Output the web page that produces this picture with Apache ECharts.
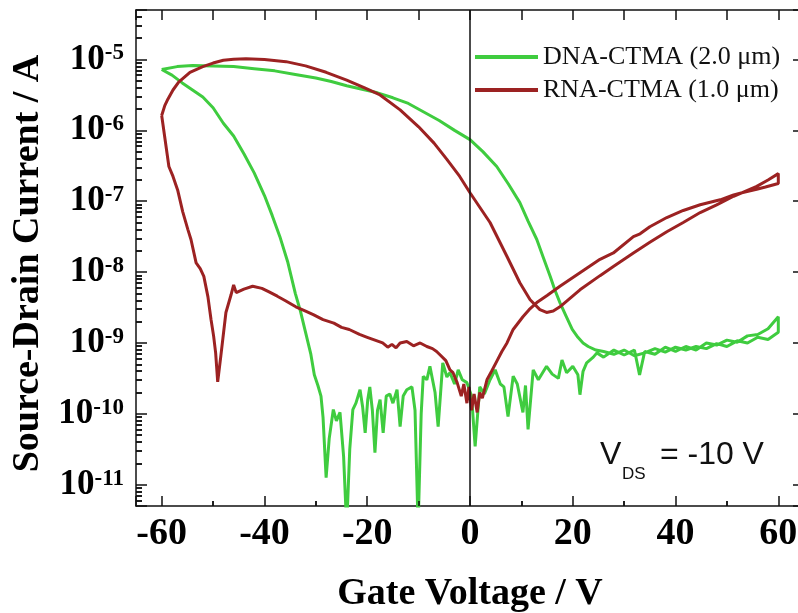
<!DOCTYPE html>
<html>
<head>
<meta charset="utf-8">
<script src="https://cdn.jsdelivr.net/npm/echarts@6/dist/echarts.min.js"></script>
<style>
html,body{margin:0;padding:0;background:#fff;}
#chart{width:798px;height:613px;}
</style>
</head>
<body>
<div id="chart"></div>
<script>
// ---- axis definitions ----
const xMin = -65, xMax = 65;
const xTickValues = [-60, -40, -20, 0, 20, 40, 60];
const xMinorTickValues = [-50, -30, -10, 10, 30, 50];
const yMin = 5e-12, yMax = 5e-5;
const yTickExponents = [-11, -10, -9, -8, -7, -6, -5];
const yMinorMultipliers = [2, 3, 4, 5, 6, 7, 8, 9];
const yMinorDecades = [-12, -11, -10, -9, -8, -7, -6, -5];

// ---- DNA-CTMA (2.0 um): gate voltage (V) and log10 of current (A), full sweep loop ----
const dnaV = [
  -60,-58,-56,-54,-52,-50,-48,-46,-44,-42,-40,-38.5,-37,-35.5,-34,-33,-32,-31,-30.3,-29.6,-29.0,
  -28.6,-28.0,-27.4,-26.6,-26.0,-25.3,-24.6,-24.0,-23.4,-22.8,-22.2,-21.4,-20.9,-20.4,-19.9,-19.5,
  -19.0,-18.5,-18.0,-17.5,-16.9,-16.3,-15.6,-15.0,-14.2,-13.6,-13.0,-12.3,-11.3,-10.7,-10.1,-9.5,
  -9.1,-8.4,-7.8,-6.8,-6.2,-5.3,-4.5,-3.9,-3.0,-2.3,-1.5,-0.6,0.3,1.0,1.9,2.8,3.9,4.9,5.9,6.6,7.4,
  8.4,9.2,10.3,10.8,11.3,12.3,13.3,14.9,16.0,17.2,17.9,18.8,20.0,21.0,21.4,22.0,22.7,24.0,24.7,
  26,28,30,32,33,34,36,38,40,42,44,46,48,50,52,54,56,58,60,
  60,58,56,54,52,50,48,46,44,42,40,38,36,34,32,30,28,26,24.5,23,22,21,19.9,18.7,17.5,16.5,15.6,
  14.3,13,11.3,9.7,7.5,5.2,2.5,0,-3,-6,-9,-12,-15,-18,-21,-24,-27,-30,-34,-38,-42,-46,-50,-54,-57,-60
];
const dnaLogI = [
  -5.14,-5.22,-5.33,-5.43,-5.53,-5.68,-5.90,-6.08,-6.33,-6.60,-6.92,-7.20,-7.50,-7.85,-8.30,-8.55,-8.85,-9.15,-9.45,-9.60,-9.75,
  -10.05,-10.90,-10.35,-9.94,-10.10,-9.98,-10.60,-11.60,-10.50,-9.94,-9.85,-9.66,-9.90,-10.27,-9.80,-9.62,
  -9.95,-10.55,-9.95,-9.80,-10.27,-9.75,-9.72,-9.85,-9.66,-10.18,-9.75,-9.66,-9.62,-9.95,-11.60,-10.00,
  -9.47,-9.52,-9.33,-9.70,-10.18,-9.28,-9.48,-9.42,-9.58,-9.38,-9.52,-9.56,-9.75,-10.46,-9.62,-9.72,-9.52,-9.38,-9.58,-9.62,-10.04,
  -9.47,-9.58,-9.98,-9.60,-10.22,-9.38,-9.52,-9.33,-9.44,-9.50,-9.24,-9.42,-9.33,-9.45,-9.73,-9.40,-9.28,-9.20,-9.14,
  -9.20,-9.10,-9.17,-9.10,-9.45,-9.12,-9.16,-9.06,-9.12,-9.05,-9.10,-9.00,-9.03,-8.96,-8.99,-8.90,-8.88,-8.80,-8.63,
  -8.85,-8.95,-8.92,-9.00,-8.97,-9.05,-9.01,-9.08,-9.05,-9.10,-9.06,-9.13,-9.08,-9.14,-9.18,-9.10,-9.16,-9.12,-9.10,-9.05,-9.00,-8.92,-8.81,-8.62,-8.43,-8.25,-8.06,
  -7.80,-7.54,-7.28,-7.02,-6.76,-6.51,-6.30,-6.13,-6.00,-5.86,-5.74,-5.62,-5.54,-5.47,-5.42,-5.37,-5.31,-5.26,-5.21,-5.16,-5.13,-5.10,-5.09,-5.085,-5.10,-5.14
];

// ---- RNA-CTMA (1.0 um): gate voltage (V) and log10 of current (A), full sweep loop ----
const rnaV = [
  -60,-59.4,-58.8,-57.8,-56.7,-54.5,-52,-50,-48,-46,-43.6,-40,-35.8,-32,-28,-24,-20.5,-17.5,-13.6,
  -10,-7,-4.5,-2,0,3.9,7.2,9.7,11.7,13.6,14.9,16.2,17.5,21.4,25.3,27.9,31.8,35,38.3,41.5,44.8,48,
  51.3,55.8,58,60,
  60,57.5,55.8,53.5,51.3,48.7,44.8,41.5,38.3,35,33.1,31.8,27.9,25.3,21.4,17.5,15,13,11.5,10.3,8.4,
  7.2,6.2,5.2,4.2,3.3,2.4,1.9,1.4,0.8,0.3,-0.2,-0.6,-1.2,-1.7,-2.5,-3.3,-3.9,-4.7,-5.8,-6.5,-7.3,
  -8.4,-9.7,-11,-12.3,-13.6,-14.4,-15.2,-16,-17,-18.5,-20,-21.5,-23.5,-25,-26.5,-28.6,-30.5,-32,
  -33.9,-36,-37.5,-39.1,-40.5,-42.3,-44,-45.5,-46.0,-46.5,-47.5,-48.5,-49.1,-49.5,-49.9,-50.4,-51.0,
  -51.8,-52.5,-53.3,-54.3,-54.9,-55.9,-56.9,-57.8,-58.6,-60
];
const rnaLogI = [
  -5.79,-5.65,-5.56,-5.43,-5.32,-5.18,-5.10,-5.05,-5.01,-4.995,-4.99,-5.00,-5.03,-5.09,-5.18,-5.29,-5.40,-5.50,-5.71,
  -5.95,-6.18,-6.41,-6.65,-6.88,-7.30,-7.78,-8.15,-8.39,-8.53,-8.57,-8.55,-8.49,-8.25,-8.05,-7.92,-7.73,-7.58,-7.43,-7.30,-7.16,-7.05,
  -6.93,-6.79,-6.70,-6.61,
  -6.75,-6.80,-6.83,-6.87,-6.91,-6.98,-7.05,-7.13,-7.23,-7.36,-7.46,-7.50,-7.73,-7.82,-8.01,-8.20,-8.33,-8.43,-8.53,-8.63,-8.81,
  -9.00,-9.12,-9.26,-9.40,-9.52,-9.78,-9.70,-9.98,-9.72,-9.95,-9.62,-9.85,-9.58,-9.75,-9.56,-9.42,-9.38,-9.25,-9.17,-9.12,-9.08,
  -9.05,-9.00,-9.04,-8.98,-9.00,-9.07,-9.02,-9.06,-9.00,-8.96,-8.92,-8.88,-8.81,-8.78,-8.72,-8.67,-8.60,-8.55,
  -8.49,-8.40,-8.34,-8.28,-8.23,-8.20,-8.24,-8.29,-8.18,-8.32,-8.57,-9.19,-9.55,-9.14,-8.90,-8.67,-8.35,
  -8.06,-7.95,-7.87,-7.54,-7.40,-7.15,-6.84,-6.65,-6.51,-5.79
];

const seriesNames = ['DNA-CTMA (2.0 \u03bcm)', 'RNA-CTMA (1.0 \u03bcm)'];
const seriesColors = ['#3fcc3f', '#9c2222'];

// ---- build ----
const dnaData = dnaV.map((v, i) => [v, Math.pow(10, dnaLogI[i])]);
const rnaData = rnaV.map((v, i) => [v, Math.pow(10, rnaLogI[i])]);

// minor tick marks, expressed in data units and drawn through the axis scales
const yTickLenV = 1.17;          // ~6 px along the voltage axis
const xTickLenFactor = 1.176;    // ~5 px along the log current axis
const minorTickLines = [];
yMinorDecades.forEach(d => yMinorMultipliers.forEach(m => {
  const val = m * Math.pow(10, d);
  if (val > yMin && val < yMax) {
    minorTickLines.push([{coord: [xMin + 0.001, val]}, {coord: [xMin + yTickLenV, val]}]);
  }
}));
xMinorTickValues.forEach(v => {
  minorTickLines.push([{coord: [v, yMin * 1.0001]}, {coord: [v, yMin * xTickLenFactor]}]);
});

const serif = 'Liberation Serif';
const chart = echarts.init(document.getElementById('chart'), null, {renderer: 'canvas'});

function yLabel(v) {
  const e = Math.log10(v);
  const r = Math.round(e);
  if (Math.abs(e - r) > 1e-6 || yTickExponents.indexOf(r) < 0) return ' ';
  return '{b|10}{s|' + r + '}';
}
function xLabel(v) {
  return xTickValues.indexOf(Math.round(v * 1000) / 1000) >= 0 ? String(Math.round(v)) : ' ';
}
function ls() { return {color: '#111', width: 1.5}; }

chart.setOption({
  animation: false,
  backgroundColor: '#fff',
  grid: {left: 136, top: 10, right: -6, bottom: 107, outerBoundsMode: 'none'},
  legend: {
    data: seriesNames,
    orient: 'vertical',
    left: 475, top: 44, padding: 0,
    icon: 'rect', itemWidth: 63, itemHeight: 4, itemGap: 7,
    textStyle: {fontFamily: serif, fontSize: 26, color: '#111', lineHeight: 26},
    selectedMode: false
  },
  xAxis: [{
    type: 'value', min: xMin, max: xMax, splitNumber: 6, position: 'bottom',
    axisLine: {show: true, onZero: false, lineStyle: ls()},
    axisTick: {show: true, inside: true, length: 10, lineStyle: ls()},
    minorTick: {show: true, splitNumber: 2, length: 5, lineStyle: ls()},
    splitLine: {show: false},
    axisLabel: {formatter: xLabel, margin: 9, fontFamily: serif, fontWeight: 'bold', fontSize: 38, color: '#000', lineHeight: 38},
    name: 'Gate Voltage / V', nameLocation: 'middle', nameGap: 69,
    nameTextStyle: {fontFamily: serif, fontWeight: 'bold', fontSize: 38, color: '#000', lineHeight: 38}
  }, {
    type: 'value', min: xMin, max: xMax, splitNumber: 13, position: 'top',
    axisLine: {show: true, onZero: false, lineStyle: ls()},
    axisTick: {show: true, inside: true, length: 10, lineStyle: ls()},
    splitLine: {show: false}, axisLabel: {show: false}
  }],
  yAxis: [{
    type: 'log', logBase: 10, min: yMin, max: yMax, position: 'left',
    axisLine: {show: true, onZero: false, lineStyle: ls()},
    axisTick: {show: true, inside: true, length: 11, lineStyle: ls()},
    minorTick: {show: true, splitNumber: 9, length: 6, lineStyle: ls()},
    splitLine: {show: false},
    axisLabel: {
      formatter: yLabel, margin: 12,
      rich: {
        b: {fontFamily: serif, fontWeight: 'bold', fontSize: 35, lineHeight: 35, color: '#000'},
        s: {fontFamily: serif, fontWeight: 'bold', fontSize: 23, lineHeight: 23, color: '#000', verticalAlign: 'top'}
      }
    },
    name: 'Source-Drain Current / A', nameLocation: 'middle', nameGap: 87,
    nameTextStyle: {fontFamily: serif, fontWeight: 'bold', fontSize: 38, color: '#000', lineHeight: 38, padding: [0, 11, 0, 0]}
  }, {
    type: 'log', logBase: 10, min: yMin, max: yMax, position: 'right',
    axisLine: {show: true, onZero: false, lineStyle: ls()},
    axisTick: {show: true, inside: true, length: 11, lineStyle: ls()},
    minorTick: {show: true, splitNumber: 9, length: 6, lineStyle: ls()},
    splitLine: {show: false}, axisLabel: {show: false}
  }],
  graphic: [
    {type: 'text', x: 600, y: 455, silent: true,
     style: {text: 'V', font: '32px "Liberation Sans"', fill: '#111', align: 'left', verticalAlign: 'middle'}},
    {type: 'text', x: 622, y: 474, silent: true,
     style: {text: 'DS', font: '17px "Liberation Sans"', fill: '#111', align: 'left', verticalAlign: 'middle'}},
    {type: 'text', x: 651, y: 455, silent: true,
     style: {text: ' = -10 V', font: '32px "Liberation Sans"', fill: '#111', align: 'left', verticalAlign: 'middle'}}
  ],
  series: [{
    name: seriesNames[0], type: 'line', data: dnaData, xAxisIndex: 0, yAxisIndex: 0,
    symbol: 'none', showSymbol: false, color: seriesColors[0],
    lineStyle: {color: seriesColors[0], width: 3}, z: 3,
    markLine: {
      silent: true, symbol: 'none', animation: false,
      label: {show: false},
      lineStyle: {color: '#111', width: 1.5, type: 'solid'},
      data: [{xAxis: 0}]
    }
  }, {
    name: seriesNames[1], type: 'line', data: rnaData, xAxisIndex: 0, yAxisIndex: 0,
    symbol: 'none', showSymbol: false, color: seriesColors[1],
    lineStyle: {color: seriesColors[1], width: 3}, z: 4,
    markLine: {
      silent: true, symbol: 'none', animation: false,
      label: {show: false},
      emphasis: {disabled: true},
      lineStyle: {color: '#111', width: 1.5, type: 'solid'},
      data: minorTickLines
    }
  }]
});
</script>
</body>
</html>
